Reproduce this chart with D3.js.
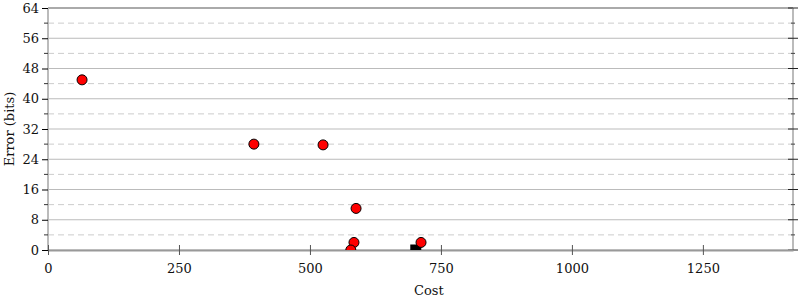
<!DOCTYPE html>
<html lang="en">
<head>
<meta charset="UTF-8">
<script src="https://d3js.org/d3.v7.min.js"></script>
<style>
  body { margin: 0; background: #fff; }
  svg { font-family: "DejaVu Serif", serif; }
</style>
</head>
<body>
<div id="chart"></div>
<script>
// Points
const costs = [65, 393, 525, 588, 584, 578, 712];
const errors = [45, 28, 27.8, 11, 2, 0, 2];
const bestCost = [702];
const bestError = [0];
const xTicks = [0, 250, 500, 750, 1000, 1250];
const yTicks = [0, 8, 16, 24, 32, 40, 48, 56, 64];
const yMinor = [4, 12, 20, 28, 36, 44, 52, 60];

const W = 800, H = 300;
const margin = { top: 8, right: 7, bottom: 50, left: 48 };
const width = W - margin.left - margin.right;
const height = H - margin.top - margin.bottom;

const svg = d3.select("#chart").append("svg")
    .attr("width", W).attr("height", H);
const g = svg.append("g").attr("transform", `translate(${margin.left},${margin.top})`);

const x = d3.scaleLinear().domain([0, 1422]).range([0, width]);
const y = d3.scaleLinear().domain([0, 64]).range([height, 0]);

// grid
g.selectAll(".grid-major").data(yTicks).enter().append("line")
    .attr("x1", 0).attr("x2", width)
    .attr("y1", d => y(d)).attr("y2", d => y(d))
    .attr("stroke", "#bbb").attr("stroke-width", 1);
g.selectAll(".grid-minor").data(yMinor).enter().append("line")
    .attr("x1", 0).attr("x2", width)
    .attr("y1", d => y(d)).attr("y2", d => y(d))
    .attr("stroke", "#ccc").attr("stroke-width", 1)
    .attr("stroke-dasharray", "6,4");

// frame
g.append("line").attr("x1", 0).attr("x2", width).attr("y1", 0).attr("y2", 0)
    .attr("stroke", "#999").attr("stroke-width", 1.5);
g.append("line").attr("x1", 0).attr("x2", 0).attr("y1", 0).attr("y2", height)
    .attr("stroke", "#bbb").attr("stroke-width", 2);
g.append("line").attr("x1", width).attr("x2", width).attr("y1", 0).attr("y2", height)
    .attr("stroke", "#bbb").attr("stroke-width", 2);

// left axis
const yAxis = g.append("g")
    .call(d3.axisLeft(y).tickValues(yTicks).tickSize(6).tickPadding(3));
yAxis.select(".domain").remove();
yAxis.selectAll(".tick line").attr("stroke", "#000");
yAxis.selectAll(".tick text").attr("font-size", 13).attr("fill", "#111")
    .attr("font-family", "DejaVu Serif");
g.selectAll(".minor-left").data(yMinor).enter().append("line")
    .attr("x1", -4).attr("x2", 0)
    .attr("y1", d => y(d)).attr("y2", d => y(d))
    .attr("stroke", "#333");

// right ticks
g.selectAll(".rtick").data(yTicks).enter().append("line")
    .attr("x1", width - 5).attr("x2", width + 5)
    .attr("y1", d => y(d)).attr("y2", d => y(d))
    .attr("stroke", "#222");
g.selectAll(".rtick-minor").data(yMinor).enter().append("line")
    .attr("x1", width - 2).attr("x2", width + 2)
    .attr("y1", d => y(d)).attr("y2", d => y(d))
    .attr("stroke", "#444");

// bottom axis
const xAxis = g.append("g").attr("transform", `translate(0,${height})`)
    .call(d3.axisBottom(x).tickValues(xTicks).tickFormat(d3.format("d"))
        .tickSizeInner(6).tickSizeOuter(0).tickPadding(8));
xAxis.select(".domain").attr("stroke", "#999").attr("stroke-width", 2);
xAxis.selectAll(".tick line").attr("y1", -5).attr("y2", 5).attr("stroke", "#555");
xAxis.selectAll(".tick text").attr("font-size", 13).attr("fill", "#111")
    .attr("font-family", "DejaVu Serif");

// clip to the plot area
svg.append("defs").append("clipPath").attr("id", "plot-clip")
    .append("rect").attr("width", width).attr("height", height);
const pts = g.append("g").attr("clip-path", "url(#plot-clip)");

pts.selectAll(".best").data(bestCost).enter().append("rect")
    .attr("x", (d) => x(d) - 5.5)
    .attr("y", (d, i) => y(bestError[i]) - 5.5)
    .attr("width", 11).attr("height", 11)
    .attr("fill", "#000");

pts.selectAll(".pt").data(costs).enter().append("circle")
    .attr("cx", d => x(d))
    .attr("cy", (d, i) => y(errors[i]))
    .attr("r", 5)
    .attr("fill", "#f00")
    .attr("stroke", "#000").attr("stroke-width", 1);

// labels
svg.append("text")
    .attr("x", margin.left + x(727)).attr("y", 295)
    .attr("text-anchor", "middle")
    .attr("font-size", 13).attr("fill", "#111")
    .text("Cost");
svg.append("text")
    .attr("transform", `translate(14,${margin.top + height / 2}) rotate(-90)`)
    .attr("text-anchor", "middle")
    .attr("font-size", 13).attr("fill", "#111")
    .text("Error (bits)");
</script>
</body>
</html>
